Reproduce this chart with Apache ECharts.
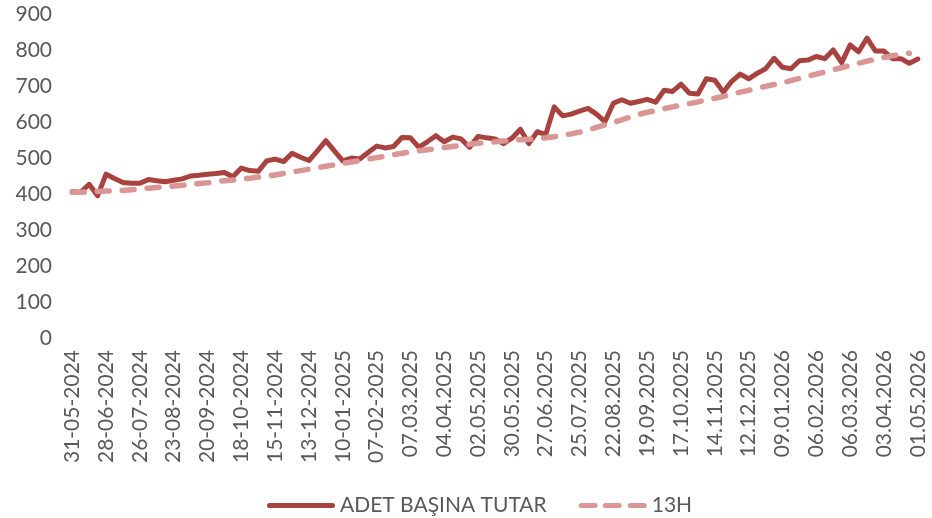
<!DOCTYPE html>
<html>
<head>
<meta charset="utf-8">
<script src="https://cdn.jsdelivr.net/npm/echarts@6/dist/echarts.min.js"></script>
<style>html,body{margin:0;padding:0;background:#fff}#c{width:932px;height:518px}</style>
</head>
<body>
<div id="c"></div>
<script>
// Weekly categories from 31-05-2024 to 01-05-2026 (101 weeks)
const startDate = new Date(Date.UTC(2024, 4, 31));
const weekCount = 101;
const dotFormatFrom = 40; // labels switch from "dd-mm-yyyy" to "dd.mm.yyyy"
const categories = [];
for (let i = 0; i < weekCount; i++) {
  const d = new Date(startDate.getTime() + i * 7 * 86400000);
  const dd = String(d.getUTCDate()).padStart(2, '0');
  const mm = String(d.getUTCMonth() + 1).padStart(2, '0');
  const sep = i < dotFormatFrom ? '-' : '.';
  categories.push(dd + sep + mm + sep + d.getUTCFullYear());
}

const seriesNames = ['ADET BAŞINA TUTAR', '13H'];

const adetBasinaTutar = [
  406, 405, 427, 395, 455, 443, 432, 430, 430, 440,
  437, 434, 438, 442, 450, 452, 455, 457, 460, 448,
  472, 465, 463, 492, 497, 490, 513, 502, 493, 520,
  548, 520, 492, 500, 497, 515, 533, 528, 532, 557,
  556, 530, 545, 562, 545, 558, 553, 530, 560, 556,
  553, 540, 555, 580, 540, 573, 565, 642, 617, 622,
  630, 638, 622, 601, 652, 662, 652, 657, 663, 655,
  688, 685, 705, 680, 678, 720, 716, 683, 713, 733,
  720, 735, 748, 777, 752, 748, 770, 772, 782, 776,
  800, 765, 814, 795, 833, 797, 797, 776, 776, 763,
  775
];

const h13 = [
  405, 405, 406, 407, 408, 409, 410, 412, 414, 416,
  418, 420, 422, 424, 427, 429, 431, 434, 437, 439,
  441, 444, 447, 450, 453, 457, 461, 465, 469, 473,
  477, 481, 485, 489, 493, 497, 501, 505, 509, 513,
  517, 520, 523, 526, 529, 532, 535, 538, 541, 543,
  545, 547, 549, 551, 552, 554, 556, 559, 563, 567,
  572, 578, 585, 592, 599, 606, 614, 621, 627, 632,
  637, 642, 647, 651, 656, 661, 666, 671, 677, 683,
  688, 694, 699, 704, 709, 715, 721, 727, 733, 739,
  745, 751, 757, 763, 769, 774, 779, 784, 788, 791,
  null
];

const yTicks = { min: 0, max: 900, interval: 100 };

const FONT = 'Lato';
const TXT = '#595959';
const MAIN = '#A8423E';
const TREND = '#D99694';

// legend glyphs (aspect 68x5)
const solidIcon = 'path://M2.5,0 L65.5,0 A2.5,2.5 0 0 1 65.5,5 L2.5,5 A2.5,2.5 0 0 1 2.5,0 Z';
const dashIcon = 'path://M2.5,0 L16.5,0 A2.5,2.5 0 0 1 16.5,5 L2.5,5 A2.5,2.5 0 0 1 2.5,0 Z ' +
  'M26.5,0 L40.5,0 A2.5,2.5 0 0 1 40.5,5 L26.5,5 A2.5,2.5 0 0 1 26.5,0 Z ' +
  'M51.5,0 L65.5,0 A2.5,2.5 0 0 1 65.5,5 L51.5,5 A2.5,2.5 0 0 1 51.5,0 Z';

const chart = echarts.init(document.getElementById('c'), null, { renderer: 'canvas' });
chart.setOption({
  animation: false,
  backgroundColor: '#ffffff',
  textStyle: { fontFamily: FONT },
  grid: { left: 68, right: 10, top: 14, bottom: 180, containLabel: false },
  legend: {
    left: 262,
    top: 490,
    itemWidth: 68,
    itemHeight: 5,
    itemGap: 32,
    textStyle: { fontFamily: FONT, fontSize: 21, color: TXT },
    data: [
      { name: seriesNames[0], icon: solidIcon, itemStyle: { color: MAIN } },
      { name: seriesNames[1], icon: dashIcon, itemStyle: { color: TREND } }
    ]
  },
  xAxis: {
    type: 'category',
    data: categories,
    boundaryGap: true,
    axisLine: { show: false },
    axisTick: { show: false },
    splitLine: { show: false },
    axisLabel: {
      interval: 3,
      rotate: 90,
      margin: 12,
      fontFamily: FONT,
      fontSize: 21,
      color: TXT
    }
  },
  yAxis: {
    type: 'value',
    min: yTicks.min,
    max: yTicks.max,
    interval: yTicks.interval,
    axisLine: { show: false },
    axisTick: { show: false },
    splitLine: { show: false },
    axisLabel: { margin: 16, fontFamily: FONT, fontSize: 21, color: TXT }
  },
  series: [
    {
      name: seriesNames[0],
      type: 'line',
      data: adetBasinaTutar,
      showSymbol: false,
      symbol: 'none',
      lineStyle: { color: MAIN, width: 5, join: 'round', cap: 'round' },
      itemStyle: { color: MAIN }
    },
    {
      name: seriesNames[1],
      type: 'line',
      data: h13,
      showSymbol: false,
      symbol: 'none',
      lineStyle: { color: TREND, width: 5.5, type: [12, 13], cap: 'round', join: 'round' },
      itemStyle: { color: TREND }
    }
  ]
});
</script>
</body>
</html>
